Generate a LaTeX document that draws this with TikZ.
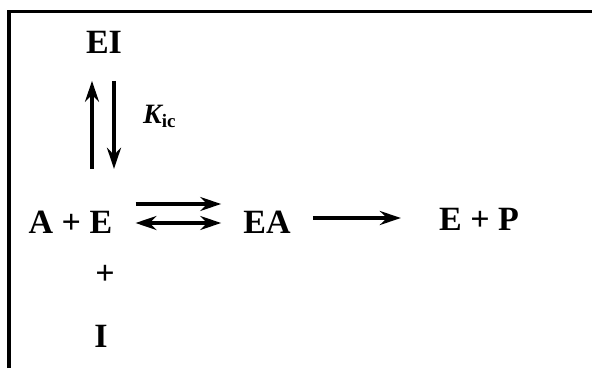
\documentclass[tikz,border=0pt]{standalone}
\usepackage{fontspec}
\setmainfont{Liberation Serif}
\usetikzlibrary{arrows.meta}
\begin{document}
\begin{tikzpicture}[x=1pt,y=1pt,
    >={Stealth[length=21pt,width=14pt,inset=7pt]},
    species/.style={inner sep=0pt,font=\fontsize{34}{40}\selectfont\bfseries},
    rxn/.style={draw,line width=3.6pt,->}]
        \useasboundingbox (0,0) rectangle (592,368);
        \draw[line width=3.2pt] (9,0) -- (9,356.5) -- (592,356.5);
       \begin{scope}
         \node [species] (EI) at (104,325.5) {EI};
         \node [species] (AE) at (70.5,146) {A + E};
         \node [species] (EA) at (267,146) {EA};
         \node [species] (EP) at (479,148.5) {E + P};
         \node [species] (plus) at (105,93) {+};
         \node [species] (I) at (101,32) {I};
         \node [inner sep=0pt,anchor=west] (Kic) at (143,252)
           {\fontsize{28}{30}\selectfont\bfseries\itshape K\raisebox{-4pt}{\fontsize{19}{20}\selectfont\upshape ic}};
         % vertical equilibrium
         \path (EI.south) ++(-12,-27) coordinate (upT) ++(0,-88) coordinate (upB);
         \path (EI.south) ++(10,-27) coordinate (dnT) ++(0,-88) coordinate (dnB);
         \path[rxn] (upB) -- (upT);
         \path[rxn] (dnT) -- (dnB);
         % horizontal equilibrium
         \path[rxn, shorten <=23pt, shorten >=22pt] ([yshift=18pt]AE.east) -- ([yshift=18pt]EA.west);
         \path[rxn, <->, shorten <=23pt, shorten >=22pt] ([yshift=-1pt]AE.east) -- ([yshift=-1pt]EA.west);
         \path[rxn, shorten <=22pt, shorten >=38pt] ([yshift=4pt]EA.east) -- ([yshift=1.5pt]EP.west);
        \end{scope}
      \end{tikzpicture}
\end{document}
